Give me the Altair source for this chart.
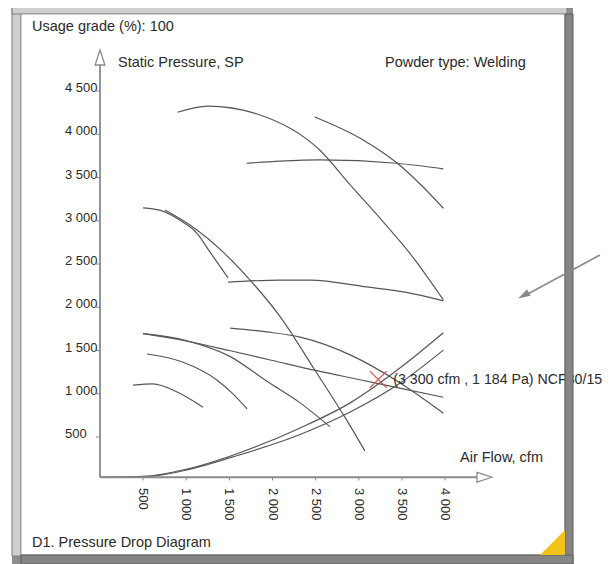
import altair as alt
import pandas as pd

# ---------------- data (cfm, Pa) ----------------
A_x = [900, 1250, 1820, 2550, 2900, 3250, 3630, 3980]
A_y = [4220, 4290, 4200, 3780, 3380, 2990, 2540, 2050]
B_x = [2490, 3050, 3440, 3710, 3980]
B_y = [4165, 3900, 3635, 3390, 3110]
C_x = [1700, 2090, 2550, 3440, 3980]
C_y = [3630, 3655, 3670, 3630, 3565]
D_x = [500, 720, 960, 1120, 1275, 1485]
D_y = [3115, 3080, 2950, 2825, 2605, 2305]
E_x = [755, 1045, 1425, 1740, 2090, 2490, 2860, 3070]
E_y = [3090, 2915, 2605, 2280, 1855, 1240, 660, 305]
F_x = [1485, 2090, 2435, 3095, 3535, 3980]
F_y = [2255, 2280, 2280, 2200, 2140, 2040]
G_x = [1510, 1935, 2320, 2900, 3480, 3980]
G_y = [1725, 1680, 1620, 1415, 1090, 740]
H_x = [500, 1000, 1500, 2000, 2500, 3000, 3500, 3980]
H_y = [1660, 1575, 1465, 1350, 1235, 1130, 1025, 925]
I_x = [500, 1000, 1500, 1950, 2320, 2665]
I_y = [1660, 1580, 1400, 1100, 860, 585]
J_x = [545, 965, 1355, 1530, 1705]
J_y = [1425, 1330, 1125, 975, 790]
K_x = [385, 615, 895, 1195]
K_y = [1065, 1080, 985, 810]
S1_x = [0, 500, 1010, 1540, 2320, 2900, 3480, 3980]
S1_y = [0, 10, 95, 255, 570, 860, 1265, 1670]
S2_x = [0, 500, 1010, 1540, 2320, 2900, 3480, 3980]
S2_y = [0, 5, 85, 235, 495, 755, 1090, 1470]

curves = {
    "A": (A_x, A_y), "B": (B_x, B_y), "C": (C_x, C_y), "D": (D_x, D_y),
    "E": (E_x, E_y), "F": (F_x, F_y), "G": (G_x, G_y), "H": (H_x, H_y),
    "I": (I_x, I_y), "J": (J_x, J_y), "K": (K_x, K_y),
    "S1": (S1_x, S1_y), "S2": (S2_x, S2_y),
}

x_ticks = [500, 1000, 1500, 2000, 2500, 3000, 3500, 4000]
x_tick_labels = ["500", "1 000", "1 500", "2 000", "2 500", "3 000", "3 500", "4 000"]
y_ticks = [500, 1000, 1500, 2000, 2500, 3000, 3500, 4000, 4500]
y_tick_labels = ["500", "1 000", "1 500", "2 000", "2 500", "3 000", "3 500", "4 000", "4 500"]

op_cfm = [3225]
op_pa = [1130]
op_label = ["(3 300 cfm , 1 184 Pa) NCF30/15"]

# ---------------- build tables ----------------
rows = []
for name, (xs_, ys_) in curves.items():
    for i, (a, b) in enumerate(zip(xs_, ys_)):
        rows.append({"curve": name, "order": i, "cfm": a, "pa": b})
df_curves = pd.DataFrame(rows)
df_xt = pd.DataFrame({"v": x_ticks, "lab": x_tick_labels})
df_yt = pd.DataFrame({"v": y_ticks, "lab": y_tick_labels})
df_op = pd.DataFrame({"cfm": op_cfm, "pa": op_pa, "lab": op_label})
one = pd.DataFrame({"a": [0]})

W, H = 599, 556
xs = alt.Scale(domain=[-1065, 5876], nice=False, zero=False)
ys = alt.Scale(domain=[-1002.9, 5425], nice=False, zero=False)
FONT = "Liberation Sans"
TXT = "#2a2a2a"
AX = "#8a8a8a"


def rect(x, x2, y, y2, fill, stroke=None, sw=0):
    kw = {"fill": fill}
    if stroke:
        kw.update(stroke=stroke, strokeWidth=sw)
    else:
        kw.update(strokeWidth=0)
    return alt.Chart(one).mark_rect(**kw).encode(
        x=alt.value(x), x2=alt.value(x2), y=alt.value(y), y2=alt.value(y2))


def label(text, x, y, size=14.5, align="left"):
    return alt.Chart(one).mark_text(
        text=text, font=FONT, fontSize=size, color=TXT, align=align, baseline="middle"
    ).encode(x=alt.value(x), y=alt.value(y))


# frame
outer = rect(4, 565, -3, 556, "#8e8e8e")
bevel_left = rect(4, 13, -3, 548, "#cfcfcf", "#7a7a7a", 1)
bevel_top = rect(4, 559, -3, 6, "#cfcfcf", "#7a7a7a", 1)
inner = rect(13, 557, 6, 547, "#ffffff", "#9a9a9a", 1)

lines = alt.Chart(df_curves).mark_line(
    color="#565656", strokeWidth=1.2, interpolate="monotone"
).encode(
    x=alt.X("cfm:Q", scale=xs, axis=None),
    y=alt.Y("pa:Q", scale=ys, axis=None),
    detail="curve:N",
    order="order:Q",
)

y_axis = alt.Chart(one).mark_rule(color=AX, strokeWidth=1.8).encode(
    x=alt.value(92), y=alt.value(469.25), y2=alt.value(52))
x_axis = alt.Chart(one).mark_rule(color=AX, strokeWidth=1.8).encode(
    x=alt.value(92), x2=alt.value(472), y=alt.value(469.25))
tri = "M0,-1L0.66,1L-0.66,1Z"
y_arrow = alt.Chart(one).mark_point(
    shape=tri, size=225, filled=True, fill="white", stroke=AX, strokeWidth=1.3, opacity=1
).encode(x=alt.value(92), y=alt.value(49.5))
x_arrow = alt.Chart(one).mark_point(
    shape=tri, size=225, filled=True, fill="white", stroke=AX, strokeWidth=1.3, opacity=1, angle=90
).encode(x=alt.value(476.5), y=alt.value(469.25))

y_tick_marks = alt.Chart(df_yt).mark_rule(color=AX, strokeWidth=1, yOffset=3).encode(
    x=alt.value(88), x2=alt.value(92), y=alt.Y("v:Q", scale=ys, axis=None))
x_tick_marks = alt.Chart(df_xt).mark_rule(color=AX, strokeWidth=1).encode(
    x=alt.X("v:Q", scale=xs, axis=None), y=alt.value(469.25), y2=alt.value(472.5))

y_tick_text = alt.Chart(df_yt).mark_text(
    font=FONT, fontSize=13, color=TXT, align="left", baseline="middle"
).encode(x=alt.value(57), y=alt.Y("v:Q", scale=ys, axis=None), text="lab:N")
x_tick_text = alt.Chart(df_xt).mark_text(
    font=FONT, fontSize=13, color=TXT, align="left", baseline="middle", angle=90
).encode(x=alt.X("v:Q", scale=xs, axis=None), y=alt.value(480), text="lab:N")

t_usage = label("Usage grade (%): 100", 24, 19)
t_sp = label("Static Pressure, SP", 110, 55)
t_powder = label("Powder type: Welding", 377, 55)
t_air = label("Air Flow, cfm", 452, 450)
t_d1 = label("D1. Pressure Drop Diagram", 24, 535)

op_mark = alt.Chart(df_op).mark_point(
    shape="M-1,-1L1,1M-1,1L1,-1", size=280, filled=False, color="#e0524f", strokeWidth=1.3, opacity=1
).encode(x=alt.X("cfm:Q", scale=xs, axis=None), y=alt.Y("pa:Q", scale=ys, axis=None))
op_text = alt.Chart(df_op).mark_text(
    font=FONT, fontSize=14.2, color=TXT, align="left", baseline="middle", dx=15
).encode(x=alt.X("cfm:Q", scale=xs, axis=None), y=alt.Y("pa:Q", scale=ys, axis=None), text="lab:N")

bar_right = rect(557, 565, 6, 556, "#858585", "#5e5e5e", 1)
bar_bottom = rect(13, 565, 547, 556, "#858585", "#5e5e5e", 1)
corner = alt.Chart(one).mark_point(
    shape="M1,-1L1,1L-1,1Z", size=625, filled=True, color="#f2c318", opacity=1, strokeWidth=0
).encode(x=alt.value(544.5), y=alt.value(534.5))

ext_line = alt.Chart(one).mark_rule(color="#8a8a8a", strokeWidth=1.6).encode(
    x=alt.value(592), x2=alt.value(516), y=alt.value(247), y2=alt.value(288))
ext_head = alt.Chart(one).mark_point(
    shape="M0,-1L0.6,1L-0.6,1Z", size=150, filled=True, color="#8a8a8a", opacity=1, angle=241
).encode(x=alt.value(515.5), y=alt.value(287.5))

chart = alt.layer(
    outer, bevel_left, bevel_top, inner,
    lines, y_axis, x_axis, y_arrow, x_arrow,
    y_tick_marks, x_tick_marks, y_tick_text, x_tick_text,
    t_usage, t_sp, t_powder, t_air, t_d1,
    op_mark, op_text,
    bar_right, bar_bottom, corner,
    ext_line, ext_head,
).properties(
    width=W, height=H, autosize=alt.AutoSizeParams(type="none"), padding=0
).configure_view(stroke=None)

chart.save("out.html", embed_options={"renderer": "svg", "actions": False})
